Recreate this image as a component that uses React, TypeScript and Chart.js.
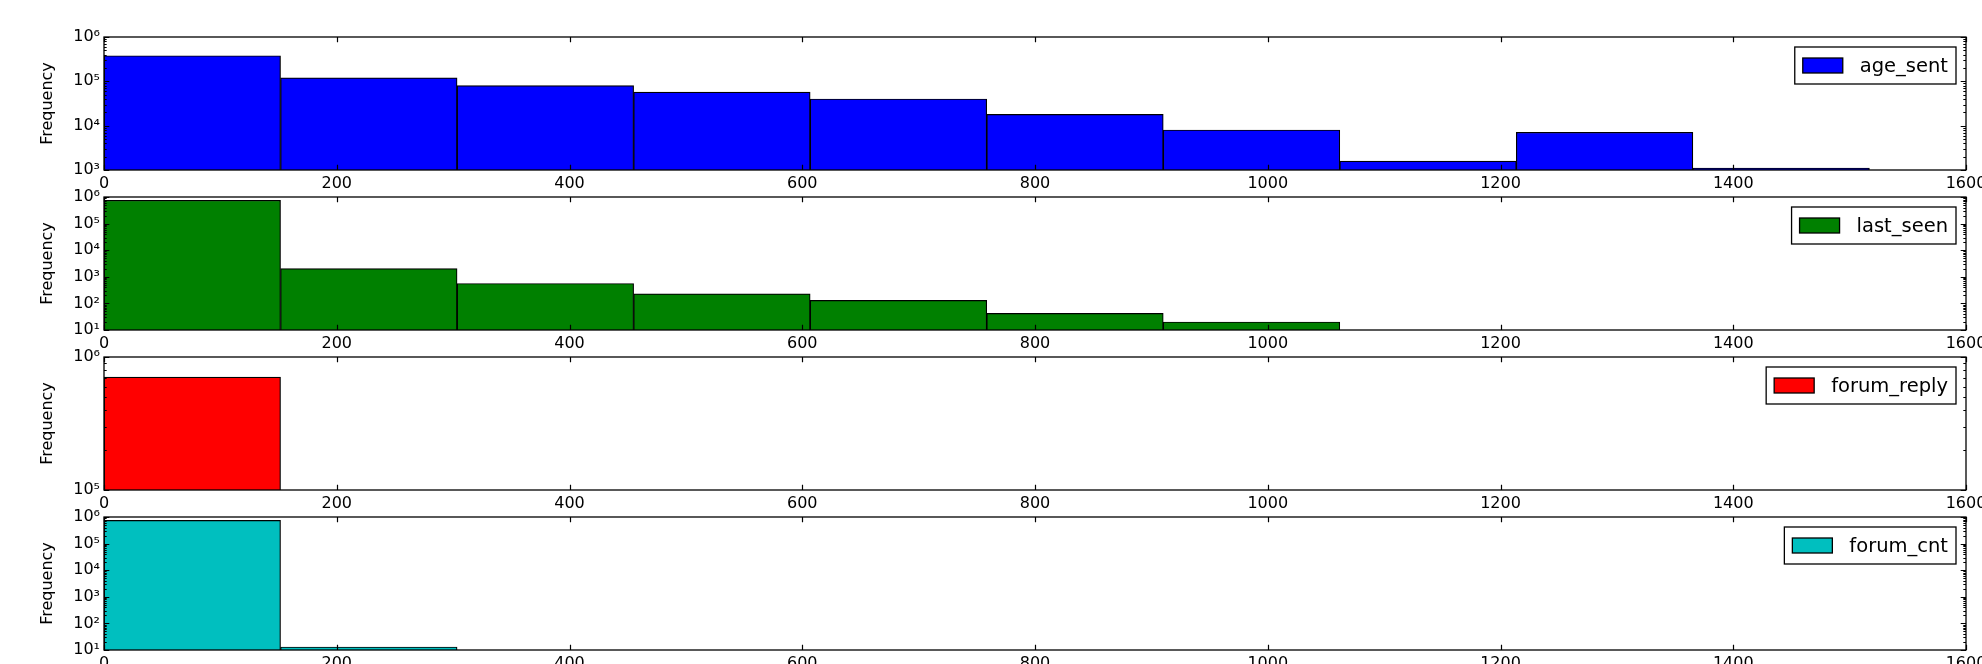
import React, { useEffect, useRef } from "react";
import { Chart, registerables } from "chart.js";

Chart.register(...registerables);

// ---- data ----
const binEdges = [0, 151.7, 303.4, 455.1, 606.8, 758.5, 910.2, 1061.9, 1213.6, 1365.3, 1517];
const seriesNames = ["age_sent", "last_seen", "forum_reply", "forum_cnt"];
const ageSent = [378000, 120000, 80000, 57000, 40000, 18000, 8000, 1580, 7100, 1100];
const lastSeen = [750000, 2050, 560, 230, 130, 42, 20, null, null, null];
const forumReply = [707000, null, null, null, null, null, null, null, null, null];
const forumCnt = [745000, 13, null, null, null, null, null, null, null, null];
const seriesValues = [ageSent, lastSeen, forumReply, forumCnt];
const yMins = [1e3, 1e1, 1e5, 1e1];
const yMax = 1e6;
const xTicks = [0, 200, 400, 600, 800, 1000, 1200, 1400, 1600];
const colors = ["#0000ff", "#008000", "#ff0000", "#00bfbf"];

// ---- layout ----
const W = 1982;
const PLOT_TOPS = [37, 197, 357, 517];
const PLOT_H = 133;
const PAD_TOP = 12;
const X_AXIS_H = 34;
const LEFT = 104;
const RIGHT_PAD = 16;
const FONT = "'DejaVu Sans', sans-serif";

const SUP = "⁰¹²³⁴⁵⁶⁷⁸⁹";
const sup = (n: number) =>
  String(n)
    .split("")
    .map((c) => SUP[Number(c)])
    .join("");

const mplPlugin = {
  id: "mplFrame",
  afterDatasetsDraw(chart: any, _args: any, opts: any) {
    const { ctx, chartArea: a, scales } = chart;
    const xs = scales.x;
    const ys = scales.y;
    ctx.save();
    ctx.strokeStyle = "#000";
    // major ticks
    ctx.lineWidth = 1.2;
    ctx.beginPath();
    const majL = 5.3;
    xs.ticks.forEach((t: any) => {
      const px = Math.round(xs.getPixelForValue(t.value)) + 0.5;
      ctx.moveTo(px, a.bottom);
      ctx.lineTo(px, a.bottom - majL);
      ctx.moveTo(px, a.top);
      ctx.lineTo(px, a.top + majL);
    });
    ys.ticks.forEach((t: any) => {
      const py = Math.round(ys.getPixelForValue(t.value)) + 0.5;
      ctx.moveTo(a.left, py);
      ctx.lineTo(a.left + majL, py);
      ctx.moveTo(a.right, py);
      ctx.lineTo(a.right - majL, py);
    });
    ctx.stroke();
    // minor log ticks
    ctx.lineWidth = 1;
    ctx.beginPath();
    const minL = 2.7;
    const k0 = Math.floor(Math.log10(ys.min));
    const k1 = Math.ceil(Math.log10(ys.max));
    for (let k = k0; k < k1; k++) {
      for (let m = 2; m <= 9; m++) {
        const v = m * Math.pow(10, k);
        if (v <= ys.min || v >= ys.max) continue;
        const py = Math.round(ys.getPixelForValue(v)) + 0.5;
        ctx.moveTo(a.left, py);
        ctx.lineTo(a.left + minL, py);
        ctx.moveTo(a.right, py);
        ctx.lineTo(a.right - minL, py);
      }
    }
    ctx.stroke();
    // frame
    ctx.lineWidth = 1.3;
    ctx.strokeRect(a.left, a.top, a.right - a.left, a.bottom - a.top);

    // legend
    const fs = 19.5;
    ctx.font = `${fs}px ${FONT}`;
    const label = opts.label as string;
    const tw = ctx.measureText(label).width;
    const pad = 8;
    const hw = 40;
    const hh = 15;
    const gap = 17;
    const bw = pad + hw + gap + tw + pad;
    const bh = 37;
    const bx = a.right - 10 - bw;
    const by = a.top + 10;
    ctx.fillStyle = "#fff";
    ctx.fillRect(bx, by, bw, bh);
    ctx.lineWidth = 1.3;
    ctx.strokeRect(bx, by, bw, bh);
    const cy = by + bh / 2;
    ctx.fillStyle = opts.color;
    ctx.fillRect(bx + pad, cy - hh / 2, hw, hh);
    ctx.strokeRect(bx + pad, cy - hh / 2, hw, hh);
    ctx.fillStyle = "#000";
    ctx.textBaseline = "middle";
    ctx.textAlign = "left";
    ctx.fillText(label, bx + pad + hw + gap, cy + 1);
    ctx.restore();
  },
};

function Panel({ idx }: { idx: number }) {
  const ref = useRef<HTMLCanvasElement>(null);
  const canvasH = PAD_TOP + PLOT_H + X_AXIS_H;
  useEffect(() => {
    if (!ref.current) return;
    const vals = seriesValues[idx];
    const data = vals.map((v, i) => ({
      x: (binEdges[i] + binEdges[i + 1]) / 2,
      y: v,
    }));
    const tickFont = { family: FONT, size: 16 };
    const chart = new Chart(ref.current, {
      type: "bar",
      data: {
        datasets: [
          {
            label: seriesNames[idx],
            data: data as any,
            backgroundColor: colors[idx],
            borderColor: "#000",
            borderWidth: 1.2,
            barPercentage: 1,
            categoryPercentage: 1,
          },
        ],
      },
      options: {
        responsive: false,
        animation: false,
        devicePixelRatio: 1,
        layout: {
          padding: { top: PAD_TOP, right: RIGHT_PAD, left: 0, bottom: 0 },
          autoPadding: false,
        } as any,
        plugins: {
          legend: { display: false },
          tooltip: { enabled: false },
          mplFrame: { label: seriesNames[idx], color: colors[idx] },
        } as any,
        scales: {
          x: {
            type: "linear",
            min: 0,
            max: 1600,
            offset: false,
            afterBuildTicks: (s: any) => {
              s.ticks = xTicks.map((v) => ({ value: v }));
            },
            afterFit: (s: any) => {
              s.height = X_AXIS_H;
              s.paddingLeft = 0;
              s.paddingRight = 0;
              s.paddingTop = 0;
              s.paddingBottom = 0;
            },
            grid: { display: false, drawTicks: false, offset: false },
            border: { display: false },
            ticks: {
              padding: 4,
              color: "#000",
              font: tickFont,
              maxRotation: 0,
              autoSkip: false,
              callback: (v: any) => String(v),
            },
          },
          y: {
            type: "logarithmic",
            min: yMins[idx],
            max: yMax,
            afterBuildTicks: (s: any) => {
              const out: any[] = [];
              for (
                let k = Math.round(Math.log10(yMins[idx]));
                k <= Math.round(Math.log10(yMax));
                k++
              ) {
                out.push({ value: Math.pow(10, k) });
              }
              s.ticks = out;
            },
            afterFit: (s: any) => {
              s.width = LEFT;
              s.paddingLeft = 0;
              s.paddingRight = 0;
              s.paddingTop = 0;
              s.paddingBottom = 0;
            },
            grid: { display: false, drawTicks: false },
            border: { display: false },
            title: {
              display: true,
              text: "Frequency",
              color: "#000",
              font: { family: FONT, size: 16 },
              padding: { top: 38, bottom: 0 },
            },
            ticks: {
              padding: 4,
              color: "#000",
              font: tickFont,
              autoSkip: false,
              callback: (v: any) => "10" + sup(Math.round(Math.log10(Number(v)))),
            },
          },
        },
      },
      plugins: [mplPlugin as any],
    });
    return () => chart.destroy();
  }, [idx]);
  return (
    <canvas
      ref={ref}
      width={W}
      height={canvasH}
      style={{
        position: "absolute",
        left: 0,
        top: PLOT_TOPS[idx] - PAD_TOP,
        width: W,
        height: canvasH,
      }}
    />
  );
}

export default function App() {
  return (
    <div
      style={{
        position: "absolute",
        left: 0,
        top: 0,
        width: W,
        height: 664,
        overflow: "hidden",
        background: "#fff",
      }}
    >
      {[0, 1, 2, 3].map((i) => (
        <Panel key={i} idx={i} />
      ))}
    </div>
  );
}
